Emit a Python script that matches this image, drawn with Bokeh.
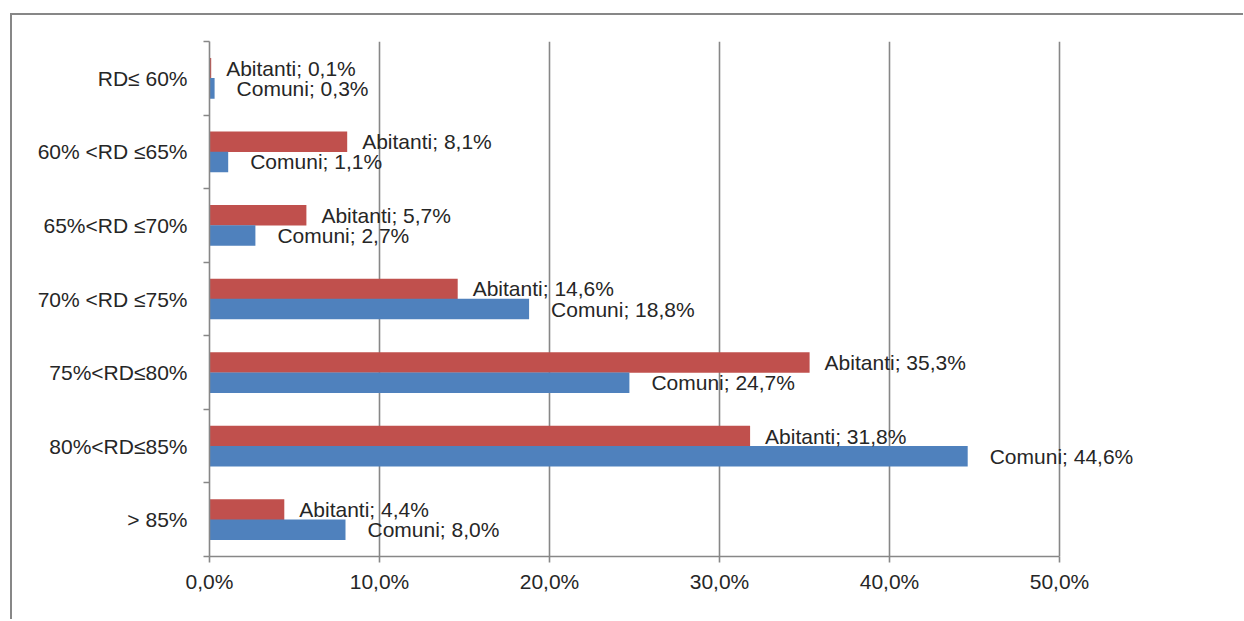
from bokeh.plotting import figure
from bokeh.models import Range1d, FixedTicker, ColumnDataSource, LabelSet
from bokeh.transform import dodge
from bokeh.core.properties import value
from bokeh.embed import file_html
from bokeh.resources import INLINE

categories = ["RD\u2264 60%", "60% <RD \u226465%", "65%<RD \u226470%", "70% <RD \u226475%",
              "75%<RD\u226480%", "80%<RD\u226485%", "> 85%"]
abitanti = [0.1, 8.1, 5.7, 14.6, 35.3, 31.8, 4.4]
comuni = [0.3, 1.1, 2.7, 18.8, 24.7, 44.6, 8.0]
x_ticks = [0, 10, 20, 30, 40, 50]
x_tick_labels = ["0,0%", "10,0%", "20,0%", "30,0%", "40,0%", "50,0%"]

def fmt(v):
    return f"{v:.1f}".replace(".", ",") + "%"

H = 0.279
OFF = 0.137
centers = [i + 0.5 for i in range(len(categories))]
src = ColumnDataSource(dict(
    yc=centers, abit=abitanti, com=comuni,
    y_ab=[c - OFF for c in centers], y_co=[c + OFF for c in centers],
    abit_lbl=[f"Abitanti; {fmt(v)}" for v in abitanti],
    com_lbl=[f"Comuni; {fmt(v)}" for v in comuni],
))

GRAY = "#878787"
TXT = "#262626"
FONT = "Liberation Sans"
FS = "21px"

# frame extends past 50% (room for labels); axis and grid are bounded at 0..50
p = figure(width=1231, height=604, output_backend="svg", toolbar_location=None,
           x_range=Range1d(0, 60), y_range=Range1d(start=len(categories), end=0),
           min_border_left=197, min_border_top=26, min_border_right=14, min_border_bottom=63,
           frame_width=1020, frame_height=515)
p.styles = {"margin-left": "10px", "margin-top": "13px",
            "border-left": f"2px solid {GRAY}", "border-top": f"2px solid {GRAY}"}
p.outline_line_color = None
p.background_fill_color = "white"

# grid
p.ygrid.grid_line_color = None
p.xgrid.ticker = FixedTicker(ticks=x_ticks)
p.xgrid.bounds = (0, 50)
p.xgrid.grid_line_color = GRAY
p.xgrid.grid_line_width = 1.6

# x axis
xa = p.xaxis[0]
xa.ticker = FixedTicker(ticks=x_ticks)
xa.bounds = (0, 50)
xa.major_label_overrides = {t: l for t, l in zip(x_ticks, x_tick_labels)}
xa.axis_line_color = GRAY
xa.axis_line_width = 1.6
xa.major_tick_line_color = GRAY
xa.major_tick_line_width = 1.6
xa.major_tick_out = 6
xa.major_tick_in = 0
xa.minor_tick_line_color = None
xa.major_label_text_font = FONT
xa.major_label_text_font_size = FS
xa.major_label_text_color = TXT
xa.major_label_standoff = 7

# y axis
ya = p.yaxis[0]
ya.ticker = FixedTicker(ticks=centers, minor_ticks=list(range(len(categories) + 1)))
ya.major_label_overrides = {c: l for c, l in zip(centers, categories)}
ya.axis_line_color = GRAY
ya.axis_line_width = 1.6
ya.major_tick_line_color = None
ya.major_tick_out = 0
ya.major_tick_in = 0
ya.minor_tick_line_color = GRAY
ya.minor_tick_line_width = 1.6
ya.minor_tick_out = 6
ya.minor_tick_in = 0
ya.major_label_text_font = FONT
ya.major_label_text_font_size = FS
ya.major_label_text_color = TXT
ya.major_label_standoff = 16

RED = "#C0504D"
BLUE = "#4F81BD"
p.hbar(y=dodge("yc", -OFF, range=p.y_range), left=0, right="abit", height=H,
       fill_color=RED, line_color=None, source=src)
p.hbar(y=dodge("yc", OFF, range=p.y_range), left=0, right="com", height=H,
       fill_color=BLUE, line_color=None, source=src)

p.add_layout(LabelSet(x="abit", y="y_ab", text="abit_lbl", source=src,
                      x_offset=15, text_baseline="middle", text_align="left",
                      text_font=value(FONT), text_font_size=value(FS), text_color=TXT))
p.add_layout(LabelSet(x="com", y="y_co", text="com_lbl", source=src,
                      x_offset=22, text_baseline="middle", text_align="left",
                      text_font=value(FONT), text_font_size=value(FS), text_color=TXT))

open("out.html", "w").write(file_html(p, INLINE))
